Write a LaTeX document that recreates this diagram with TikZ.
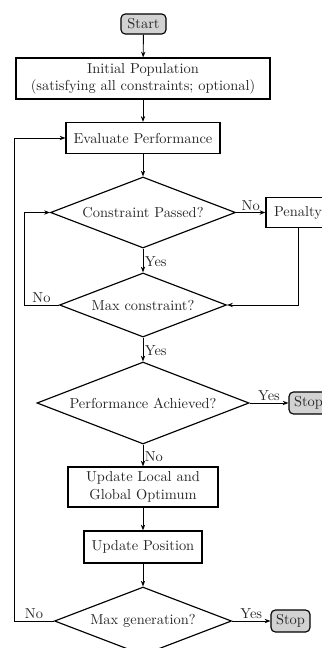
\documentclass[tikz,border=0pt]{standalone}
\usetikzlibrary{shapes.geometric,arrows.meta}
\begin{document}
\begin{tikzpicture}[x=0.693pt,y=-0.693pt,
  every node/.style={font=\normalsize, text=black!85},
  box/.style={draw, thick, rectangle, inner sep=0pt, align=center},
  term/.style={draw, thick, rectangle, rounded corners=3pt, fill=gray!35, inner sep=0pt},
  dec/.style={draw, thick, diamond, inner sep=0pt, shape aspect=2.6},
  arr/.style={-{Stealth[length=4pt,width=3pt]}, semithick},
  lbl/.style={inner sep=1pt, font=\normalsize}]
\useasboundingbox (0,0) rectangle (321,648);
\node[term, minimum width=31.2pt, minimum height=13.9pt] (start) at (143.5,24) {Start};
\node[box, minimum width=176pt, minimum height=28.4pt] (init) at (143,78.5) {Initial Population\\(satisfying all constraints; optional)};
\node[box, minimum width=106.7pt, minimum height=21.5pt] (eval) at (143,138) {Evaluate Performance};
\node[dec, minimum width=128.2pt, minimum height=49.2pt] (cp) at (143,212.5) {Constraint Passed?};
\node[box, minimum width=44.4pt, minimum height=20.5pt] (pen) at (298,212.5) {Penalty};
\node[dec, minimum width=115.7pt, minimum height=44.4pt] (mc) at (143,305) {Max constraint?};
\node[dec, minimum width=147pt, minimum height=56.8pt] (pa) at (143,403) {Performance Achieved?};
\node[term, minimum width=27pt, minimum height=15.2pt] (stopa) at (308.5,403) {Stop};
\node[box, minimum width=104pt, minimum height=27.7pt] (ulg) at (143,487) {Update Local and\\Global Optimum};
\node[box, minimum width=81.8pt, minimum height=22.2pt] (up) at (143,547) {Update Position};
\node[dec, minimum width=122.7pt, minimum height=47.1pt] (mg) at (143,621) {Max generation?};
\node[term, minimum width=27pt, minimum height=15.2pt] (stopb) at (290.5,621) {Stop};
\coordinate (lx) at (14,0);
\coordinate (mx) at (24,0);

\draw[arr] (start) -- (init);
\draw[arr] (init) -- (eval);
\draw[arr] (eval) -- (cp);
\draw[arr] (cp) -- node[lbl, right, pos=0.55] {Yes} (mc);
\draw[arr] (mc) -- node[lbl, right, pos=0.55] {Yes} (pa);
\draw[arr] (pa) -- node[lbl, right, pos=0.55] {No} (ulg);
\draw[arr] (ulg) -- (up);
\draw[arr] (up) -- (mg);
\draw[arr] (cp.east) -- node[lbl, above] {No} (pen.west);
\draw[arr] (pa.east) -- node[lbl, above] {Yes} (stopa.west);
\draw[arr] (mg.east) -- node[lbl, above] {Yes} (stopb.west);
\draw[arr] (pen.south) |- (mc.east);
\draw[arr] (mc.west) -- node[lbl, above, pos=0.5] {No} (mc.west -| mx) |- (cp.west);
\draw[arr] (mg.west) -- node[lbl, above, pos=0.5] {No} (mg.west -| lx) |- (eval.west);
\end{tikzpicture}
\end{document}
